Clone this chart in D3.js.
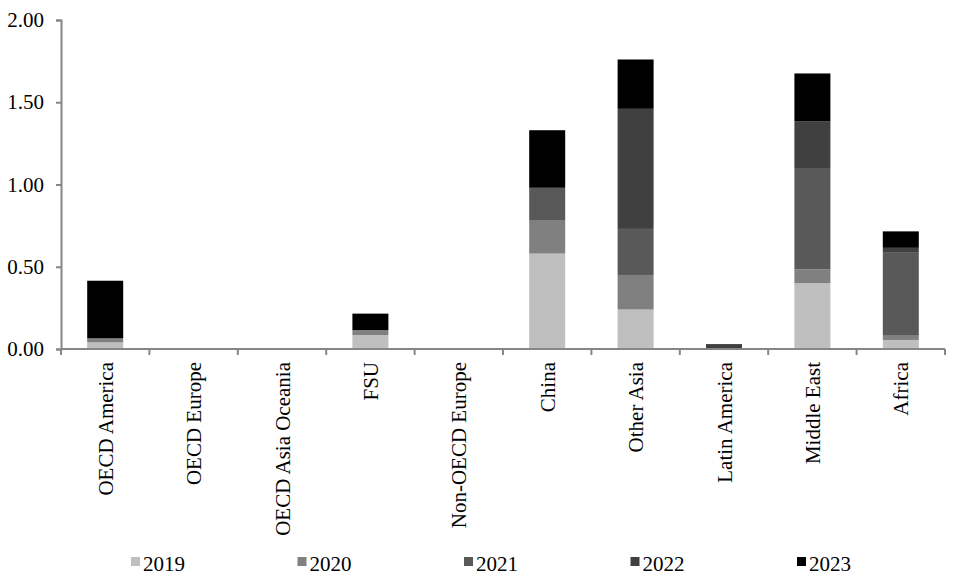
<!DOCTYPE html>
<html><head><meta charset="utf-8">
<script src="https://cdn.jsdelivr.net/npm/d3@7"></script>
<style>body{margin:0;background:#fff}svg{display:block}text{font-family:"Liberation Serif","Times New Roman",serif;fill:#000}</style>
</head><body>
<svg id="c" width="957" height="588"></svg>
<script>
const categories = ["OECD America","OECD Europe","OECD Asia Oceania","FSU","Non-OECD Europe","China","Other Asia","Latin America","Middle East","Africa"];
const seriesNames = ["2019","2020","2021","2022","2023"];
const v2019 = [0.04, 0, 0, 0.085, 0, 0.58, 0.24, 0, 0.40, 0.055];
const v2020 = [0.025, 0, 0, 0.03, 0, 0.20, 0.21, 0, 0.085, 0.03];
const v2021 = [0, 0, 0, 0, 0, 0.20, 0.28, 0, 0.61, 0.50];
const v2022 = [0, 0, 0, 0, 0, 0, 0.73, 0.03, 0.29, 0.03];
const v2023 = [0.35, 0, 0, 0.10, 0, 0.35, 0.30, 0, 0.29, 0.10];
const yTicks = [0, 0.5, 1.0, 1.5, 2.0];
const colors = ["#bfbfbf","#808080","#595959","#404040","#000000"];

const values = [v2019, v2020, v2021, v2022, v2023];
const rows = categories.map((c,i)=>{const r={cat:c}; seriesNames.forEach((s,j)=>r[s]=values[j][i]); return r;});
const stack = d3.stack().keys(seriesNames)(rows);

const svg = d3.select("#c");
const L=61, R=945, T=20, B=349;
const xb = d3.scaleBand().domain(categories).range([L,R]);
const y = d3.scaleLinear().domain([0,2]).range([B,T]);
const color = d3.scaleOrdinal().domain(seriesNames).range(colors);

svg.append("g").selectAll("g").data(stack).join("g").attr("fill",d=>color(d.key))
 .selectAll("rect").data(d=>d).join("rect")
 .attr("x",d=>xb(d.data.cat)+xb.bandwidth()/2-18).attr("width",36)
 .attr("y",d=>y(d[1])).attr("height",d=>Math.max(0,y(d[0])-y(d[1])));

// y axis
const ya = svg.append("g").attr("transform",`translate(${L},0)`)
 .call(d3.axisLeft(y).tickValues(yTicks).tickFormat(d3.format(".2f")).tickSizeOuter(0).tickSize(5));
ya.select(".domain").attr("stroke","#868686").attr("stroke-width",2);
ya.selectAll(".tick line").attr("stroke","#868686").attr("stroke-width",2);
ya.selectAll(".tick text").attr("font-size",21).attr("font-family","Liberation Serif").attr("x",-17).attr("fill","#000");

// x axis
const xa = svg.append("g").attr("transform",`translate(0,${B})`);
xa.append("line").attr("x1",L).attr("x2",R).attr("stroke","#868686").attr("stroke-width",2);
xa.selectAll("line.t").data(categories.map(c=>xb(c)).concat([R])).join("line").attr("class","t")
 .attr("x1",d=>d).attr("x2",d=>d).attr("y1",0).attr("y2",6).attr("stroke","#868686").attr("stroke-width",2);
xa.selectAll("text").data(categories).join("text")
 .attr("transform",d=>`translate(${xb(d)+xb.bandwidth()/2+7.5},13) rotate(-90)`)
 .attr("text-anchor","end").attr("font-size",21).text(d=>d);

// legend
const lg = svg.append("g");
seriesNames.forEach((s,i)=>{
  const lx = 131 + i*166.5;
  lg.append("rect").attr("x",lx).attr("y",557).attr("width",9).attr("height",9).attr("fill",color(s));
  lg.append("text").attr("x",lx+12).attr("y",571).attr("font-size",21).text(s);
});
</script>
</body></html>
